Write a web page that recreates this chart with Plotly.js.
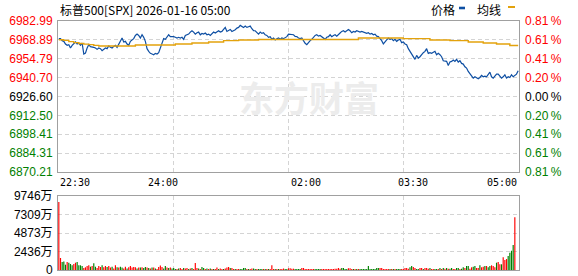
<!DOCTYPE html>
<html><head><meta charset="utf-8">
<script src="https://cdn.plot.ly/plotly-3.0.1.min.js"></script>
<style>html,body{margin:0;padding:0;background:#fff;}#chart{width:578px;height:276px;}</style>
</head><body><div id="chart"></div>
<script>
// ---- price line, four stretches of the session (sampled about every 1.7 px) ----
const priceSeg1 = [6969.8,6969.8,6968.3,6967.8,6965.8,6964.8,6965.3,6962.8,6964.8,6965.8,6967.3,6965.8,6966.5,6964.8,6966.5,6958.3,6959.0,6962.8,6965.3,6963.8,6963.8,6963.3,6962.8,6961.8,6962.8,6962.3,6960.8,6961.8,6962.8,6962.3,6964.3,6963.3,6962.8,6964.0,6964.8,6963.3,6965.3,6967.8,6970.3,6967.3,6967.8,6965.8,6964.8,6967.8,6968.8,6969.8,6972.2,6973.2,6972.2,6970.3,6972.7,6970.8,6967.8,6962.3,6960.3,6958.8,6958.3,6957.8,6958.8,6958.3,6959.3,6962.8,6967.3,6969.8,6969.3,6970.8,6972.7,6971.3];
const priceSeg2 = [6971.5,6971.3,6970.8,6970.3,6970.8,6970.3,6970.8,6969.3,6972.2,6972.7,6973.2,6974.7,6975.7,6974.7,6973.2,6974.2,6974.7,6972.7,6973.7,6973.2,6974.0,6972.7,6973.2,6972.2,6973.7,6974.7,6974.0,6974.7,6975.7,6974.7,6975.2,6976.7,6978.2,6975.2,6975.7,6976.7,6975.2,6975.7,6976.5,6977.7,6978.2,6979.7,6979.2,6978.2,6979.2,6978.2,6978.7,6979.2,6977.2,6975.7,6975.7,6974.2,6973.2,6974.7,6973.7,6974.2,6972.7,6972.2,6970.8,6971.3,6969.3,6970.3,6968.8,6969.8,6970.3,6969.3,6970.3,6969.8,6970.8,6971.3];
const priceSeg3 = [6973.2,6973.0,6973.0,6972.7,6971.5,6971.3,6970.3,6969.8,6970.3,6967.8,6966.3,6965.3,6967.3,6968.3,6969.3,6970.8,6972.2,6972.7,6971.7,6972.2,6971.3,6970.8,6969.3,6970.8,6971.3,6972.7,6971.3,6972.2,6972.7,6971.7,6973.2,6974.0,6975.2,6975.7,6974.7,6975.7,6976.7,6975.7,6974.2,6975.2,6974.7,6975.7,6975.2,6974.7,6975.2,6974.7,6974.2,6973.7,6974.2,6973.2,6973.7,6972.7,6973.2,6971.7,6971.3,6969.8,6968.3,6965.8,6967.8,6968.8,6970.3,6969.3,6969.8,6968.3,6969.3,6967.8,6968.8,6969.3,6966.8];
const priceSeg4 = [6967.3,6965.8,6965.3,6962.3,6960.3,6958.8,6956.5,6954.3,6957.3,6955.3,6956.3,6958.3,6959.3,6960.3,6962.3,6958.8,6959.3,6958.8,6959.3,6960.3,6957.8,6958.8,6957.8,6956.3,6953.3,6953.3,6952.8,6949.8,6952.3,6952.8,6953.8,6952.8,6954.3,6952.3,6953.3,6951.3,6950.8,6948.8,6947.8,6945.3,6943.3,6942.3,6940.3,6941.3,6940.3,6939.8,6940.8,6942.3,6941.3,6941.8,6941.3,6942.8,6944.8,6941.3,6940.3,6941.8,6943.3,6943.3,6941.8,6940.3,6941.3,6942.8,6940.3,6941.3,6940.8,6942.8,6941.3,6942.3,6943.3,6945.8];

// ---- average line (step points: sample index, value) ----
const avgIdx = [0,3,6,9,12,15,18,21,24,46,70,80,90,99,108,120,180,207,223,235,246,255,263,271,276];
const avgVal = [6969.0,6968.5,6967.6,6966.8,6966.2,6965.7,6965.3,6964.8,6964.3,6965.0,6965.8,6966.5,6967.3,6968.3,6968.8,6969.2,6970.3,6969.8,6968.8,6968.3,6967.3,6966.5,6965.8,6964.7,6964.7];

// ---- volume (万) and direction (1 = up/red, 0 = down/green) ----
const volSeg1 = [8990,1586,1058,1124,701,1058,965,793,621,793,965,1058,621,621,529,264,357,529,621,436,529,886,436,264,529,397,621,357,529,397,529,330,436,198,621,357,330,436,330,198,436,198,357,529,330,397,357,198,330,330,357,264,397,330,264,198,330,330,198,132,397,595,397,198,529,330,264,330];
const dirSeg1 = [1,1,0,0,0,1,0,0,0,1,1,0,0,0,0,1,1,1,1,0,1,0,0,1,1,1,0,1,1,0,1,1,0,1,1,0,1,0,0,1,1,0,1,1,1,1,1,0,1,0,1,0,0,1,0,1,0,1,0,1,1,1,1,0,0,1,0,1];
const volSeg2 = [198,264,132,132,198,264,132,264,198,264,132,198,264,132,925,264,198,132,397,264,132,198,132,198,132,132,132,330,132,198,132,132,198,330,397,264,264,132,132,132,132,132,132,264,264,132,132,132,198,198,132,132,132,132,132,132,132,132,132,132,621,132,132,132,132,132,132,198,132,132];
const dirSeg2 = [0,0,0,1,0,1,1,0,1,1,0,1,0,1,1,1,0,1,0,0,1,0,1,0,1,0,1,1,0,1,1,0,1,1,1,0,1,1,0,1,1,0,0,0,0,1,0,1,1,0,0,1,0,0,0,1,0,1,0,1,1,1,0,1,0,1,1,1,0,0];
const volSeg3 = [225,225,172,172,132,132,132,132,264,264,132,132,132,132,132,132,132,132,132,132,132,132,132,132,132,132,132,132,172,172,264,172,264,264,132,132,225,225,132,132,132,132,132,132,132,132,132,132,529,132,132,132,132,264,264,264,264,132,132,132,132,132,132,132,132,132,132,132,132];
const dirSeg3 = [1,1,1,1,0,0,0,0,1,1,1,1,1,1,1,1,0,0,0,0,1,1,1,1,1,1,1,1,1,1,1,1,0,0,0,0,1,1,1,0,1,0,1,0,0,0,0,0,0,0,0,0,0,0,0,1,1,1,1,1,1,0,1,0,1,0,0,0,1];
const volSeg4 = [132,264,264,172,357,529,397,264,132,132,264,264,132,264,264,172,264,132,132,132,132,132,264,132,264,172,264,172,172,264,132,132,264,264,132,172,357,264,529,529,172,357,436,529,264,264,621,357,436,529,529,357,529,621,529,357,965,1058,754,754,1680,1320,1450,1850,2290,2550,3300,6970];
const dirSeg4 = [1,1,1,1,0,0,1,1,0,0,1,1,0,1,1,1,0,1,1,0,0,1,0,1,0,1,0,1,0,0,1,1,0,0,1,0,0,1,0,0,1,1,0,0,1,1,0,1,1,0,1,0,0,1,1,1,0,1,1,0,1,1,1,0,0,0,0,1];

// ---- axis ticks ----
const priceTicks = [6870.21,6884.31,6898.41,6912.50,6926.60,6940.70,6954.79,6968.89,6982.99];
const pctLabels = ['0.81%','0.61%','0.41%','0.20%','0.00%','0.20%','0.41%','0.61%','0.81%'];
const volTicks = [0,2436,4873,7309,9746];
const volLabels = ['0','2436万','4873万','7309万','9746万'];
const timeLabels = ['22:30','24:00','02:00','03:30','05:00'];
const titleText = '标普500[SPX] 2026-01-16 05:00';

const price = priceSeg1.concat(priceSeg2, priceSeg3, priceSeg4);
const vol = volSeg1.concat(volSeg2, volSeg3, volSeg4);
const dir = dirSeg1.concat(dirSeg2, dirSeg3, dirSeg4);
const N = price.length;
const idx = price.map((_, i) => i);
const vidx = vol.map((_, i) => i);
const RED = '#FF0000', GREEN = '#008000', DARK = '#000000';
const prevClose = priceTicks[4];
function tcol(v){ return v > prevClose + 0.001 ? RED : (v < prevClose - 0.001 ? GREEN : DARK); }
const leftText = priceTicks.map(v => '<span style="color:' + tcol(v) + '">' + v.toFixed(2) + '</span>');
const rightText = priceTicks.map((v, i) => '<span style="color:' + tcol(v) + '">' + pctLabels[i].replace('%', '\u2009%') + '</span>');

const xr = [-0.5, N - 0.5];
const span = xr[1] - xr[0];
const vgrid = [1, 2, 3].map(k => xr[0] + span * k / 4);
const GRID = '#d4d4d4', FRAME = '#a0a0a0';
const tickFont = {family: 'Liberation Sans, Arial, sans-serif', size: 12, color: '#000'};

const traces = [
  {type: 'scatter', mode: 'lines', x: idx, y: price, xaxis: 'x', yaxis: 'y',
   line: {color: '#0E4FA3', width: 1.2}, hoverinfo: 'skip'},
  {type: 'scatter', mode: 'lines', x: avgIdx, y: avgVal, xaxis: 'x', yaxis: 'y',
   line: {color: '#E3A20C', width: 1.4, shape: 'hv'}, hoverinfo: 'skip'},
  {type: 'scatter', mode: 'lines', x: [xr[0], xr[1]], y: [priceTicks[0], priceTicks[8]], xaxis: 'x', yaxis: 'y2',
   line: {width: 0}, opacity: 0, hoverinfo: 'skip'},
  {type: 'bar', x: vidx, y: vol, xaxis: 'x2', yaxis: 'y3',
   marker: {color: dir.map(d => d ? RED : GREEN), line: {width: 0}}, hoverinfo: 'skip'}
];

const timePos = [xr[0], 62.6, 148.4, 212.8, xr[1]];
const timeAnchor = ['left', 'center', 'center', 'center', 'right'];
const annotations = timeLabels.map((t, i) => ({
  text: t, x: timePos[i], xref: 'x', xanchor: timeAnchor[i], y: 0.353, yref: 'paper', yanchor: 'middle',
  showarrow: false, font: {family: 'DejaVu Sans Mono, monospace', size: 10, color: '#000'}
}));
annotations.push({text: titleText, x: 0, xref: 'paper', xanchor: 'left', xshift: 0, y: 1.047, yref: 'paper', yanchor: 'middle',
  showarrow: false, font: {family: 'Noto Sans CJK SC, sans-serif', size: 12, color: '#000'}});
annotations.push({text: '价格', x: 0.835, xref: 'paper', xanchor: 'center', y: 1.047, yref: 'paper', yanchor: 'middle',
  showarrow: false, font: {family: 'Noto Sans CJK SC, sans-serif', size: 12, color: '#000'}});
annotations.push({text: '均线', x: 0.935, xref: 'paper', xanchor: 'center', y: 1.047, yref: 'paper', yanchor: 'middle',
  showarrow: false, font: {family: 'Noto Sans CJK SC, sans-serif', size: 12, color: '#000'}});
annotations.push({text: '<b>东方财富</b>', x: 0.545, xref: 'paper', xanchor: 'center', y: 0.695, yref: 'paper', yanchor: 'middle',
  showarrow: false, font: {family: 'Noto Sans CJK SC, sans-serif', size: 35, color: '#ECECEC'}});

const shapes = [
  {type: 'rect', xref: 'paper', yref: 'paper', x0: 0.8698, x1: 0.8829, y0: 1.047, y1: 1.0574, fillcolor: '#0E4FA3', line: {width: 0}},
  {type: 'rect', xref: 'paper', yref: 'paper', x0: 0.9761, x1: 0.9913, y0: 1.0522, y1: 1.0602, fillcolor: '#E3A20C', line: {width: 0}}
];

const layout = {
  width: 578, height: 276,
  margin: {l: 58, r: 59, t: 21, b: 6, pad: 0},
  paper_bgcolor: '#fff', plot_bgcolor: '#fff',
  showlegend: false, bargap: 0.3,
  font: tickFont,
  xaxis: {domain: [0, 1], anchor: 'y', range: xr, tickvals: vgrid, showticklabels: false, ticks: '',
    showgrid: true, gridcolor: GRID, griddash: '4px,3px', gridwidth: 1,
    showline: true, mirror: true, linecolor: FRAME, linewidth: 1, zeroline: false, fixedrange: true},
  yaxis: {domain: [0.394, 1], anchor: 'x', range: [priceTicks[0], priceTicks[8]], tickvals: priceTicks, ticktext: leftText,
    ticks: '', ticklabelstandoff: 2, tickfont: tickFont, ticklabeloverflow: 'allow',
    showgrid: true, gridcolor: GRID, griddash: '4px,3px', gridwidth: 1,
    showline: true, mirror: true, linecolor: FRAME, linewidth: 1, zeroline: false, fixedrange: true},
  yaxis2: {overlaying: 'y', anchor: 'x', side: 'right', range: [priceTicks[0], priceTicks[8]], tickvals: priceTicks, ticktext: rightText,
    ticks: '', ticklabelstandoff: 5, tickfont: tickFont, ticklabeloverflow: 'allow', showgrid: false, zeroline: false, showline: false, fixedrange: true},
  xaxis2: {domain: [0, 1], anchor: 'y3', range: xr, tickvals: vgrid, showticklabels: false, ticks: '',
    showgrid: true, gridcolor: GRID, griddash: '4px,3px', gridwidth: 1,
    showline: true, mirror: true, linecolor: FRAME, linewidth: 1, zeroline: false, fixedrange: true},
  yaxis3: {domain: [0, 0.296], anchor: 'x2', range: [0, volTicks[4]], tickvals: volTicks, ticktext: volLabels,
    ticks: '', ticklabelstandoff: 2, ticklabeloverflow: 'allow', tickfont: {family: 'Liberation Sans, Noto Sans CJK SC, sans-serif', size: 12, color: '#000'},
    showgrid: true, gridcolor: GRID, griddash: '4px,3px', gridwidth: 1,
    showline: true, mirror: true, linecolor: FRAME, linewidth: 1, zeroline: false, fixedrange: true},
  annotations: annotations,
  shapes: shapes
};

Plotly.newPlot('chart', traces, layout, {displayModeBar: false, staticPlot: true});
</script>
</body></html>
